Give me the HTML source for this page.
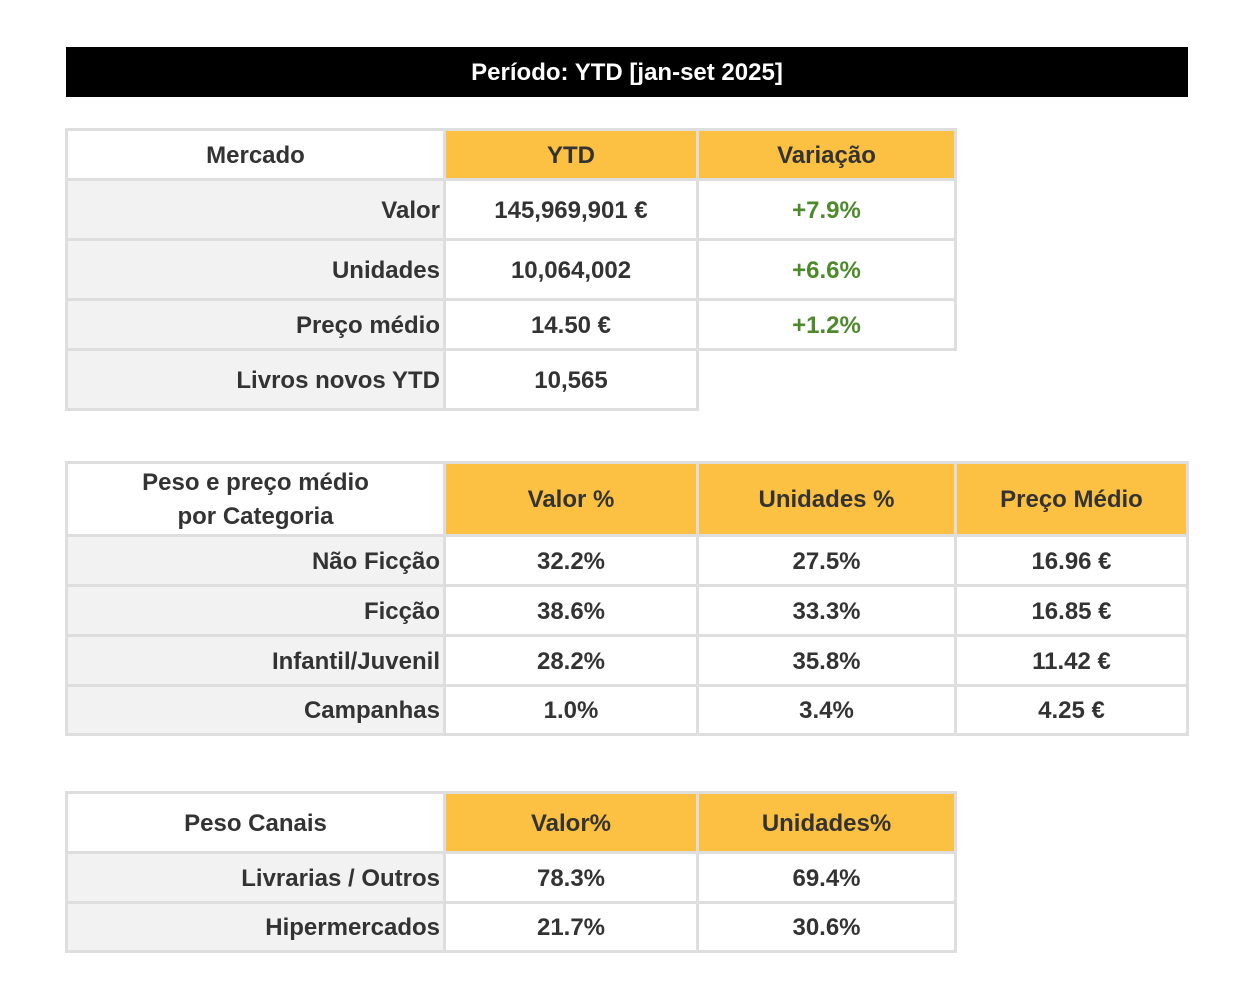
<!DOCTYPE html>
<html><head><meta charset="utf-8"><style>
body{margin:0;width:1252px;height:1000px;background:#fff;position:relative;overflow:hidden}
.c{position:absolute;box-sizing:border-box;border:3px solid #dedede;display:flex;align-items:center;justify-content:center;font:bold 24px "Liberation Sans",sans-serif;color:#333;background:#fff;text-align:center;line-height:34px;padding-top:2px}
.l{background:#f2f2f2;justify-content:flex-end;padding-right:3px}
.h{background:#fcc143}
.w{background:#fff;justify-content:center}
.g{color:#4d8a2c}
.t{position:absolute;left:66px;top:47px;width:1122px;height:50px;background:#000;color:#fff;font:bold 24px "Liberation Sans",sans-serif;display:flex;align-items:center;justify-content:center;padding-top:1px;box-sizing:border-box}
</style></head><body>
<div class="t">Período: YTD [jan-set 2025]</div>

<div class="c w" style="left:65px;top:128px;width:381px;height:53px">Mercado</div>
<div class="c h" style="left:443px;top:128px;width:256px;height:53px">YTD</div>
<div class="c h" style="left:696px;top:128px;width:261px;height:53px">Variação</div>
<div class="c l" style="left:65px;top:178px;width:381px;height:63px">Valor</div>
<div class="c" style="left:443px;top:178px;width:256px;height:63px">145,969,901 €</div>
<div class="c g" style="left:696px;top:178px;width:261px;height:63px">+7.9%</div>
<div class="c l" style="left:65px;top:238px;width:381px;height:63px">Unidades</div>
<div class="c" style="left:443px;top:238px;width:256px;height:63px">10,064,002</div>
<div class="c g" style="left:696px;top:238px;width:261px;height:63px">+6.6%</div>
<div class="c l" style="left:65px;top:298px;width:381px;height:53px">Preço médio</div>
<div class="c" style="left:443px;top:298px;width:256px;height:53px">14.50 €</div>
<div class="c g" style="left:696px;top:298px;width:261px;height:53px">+1.2%</div>
<div class="c l" style="left:65px;top:348px;width:381px;height:63px">Livros novos YTD</div>
<div class="c" style="left:443px;top:348px;width:256px;height:63px">10,565</div>

<div class="c w" style="left:65px;top:461px;width:381px;height:76px">Peso e preço médio<br>por Categoria</div>
<div class="c h" style="left:443px;top:461px;width:256px;height:76px">Valor %</div>
<div class="c h" style="left:696px;top:461px;width:261px;height:76px">Unidades %</div>
<div class="c h" style="left:954px;top:461px;width:235px;height:76px">Preço Médio</div>
<div class="c l" style="left:65px;top:534px;width:381px;height:53px">Não Ficção</div>
<div class="c" style="left:443px;top:534px;width:256px;height:53px">32.2%</div>
<div class="c" style="left:696px;top:534px;width:261px;height:53px">27.5%</div>
<div class="c" style="left:954px;top:534px;width:235px;height:53px">16.96 €</div>
<div class="c l" style="left:65px;top:584px;width:381px;height:53px">Ficção</div>
<div class="c" style="left:443px;top:584px;width:256px;height:53px">38.6%</div>
<div class="c" style="left:696px;top:584px;width:261px;height:53px">33.3%</div>
<div class="c" style="left:954px;top:584px;width:235px;height:53px">16.85 €</div>
<div class="c l" style="left:65px;top:634px;width:381px;height:53px">Infantil/Juvenil</div>
<div class="c" style="left:443px;top:634px;width:256px;height:53px">28.2%</div>
<div class="c" style="left:696px;top:634px;width:261px;height:53px">35.8%</div>
<div class="c" style="left:954px;top:634px;width:235px;height:53px">11.42 €</div>
<div class="c l" style="left:65px;top:684px;width:381px;height:52px">Campanhas</div>
<div class="c" style="left:443px;top:684px;width:256px;height:52px">1.0%</div>
<div class="c" style="left:696px;top:684px;width:261px;height:52px">3.4%</div>
<div class="c" style="left:954px;top:684px;width:235px;height:52px">4.25 €</div>

<div class="c w" style="left:65px;top:791px;width:381px;height:63px">Peso Canais</div>
<div class="c h" style="left:443px;top:791px;width:256px;height:63px">Valor%</div>
<div class="c h" style="left:696px;top:791px;width:261px;height:63px">Unidades%</div>
<div class="c l" style="left:65px;top:851px;width:381px;height:53px">Livrarias / Outros</div>
<div class="c" style="left:443px;top:851px;width:256px;height:53px">78.3%</div>
<div class="c" style="left:696px;top:851px;width:261px;height:53px">69.4%</div>
<div class="c l" style="left:65px;top:901px;width:381px;height:52px">Hipermercados</div>
<div class="c" style="left:443px;top:901px;width:256px;height:52px">21.7%</div>
<div class="c" style="left:696px;top:901px;width:261px;height:52px">30.6%</div>
</body></html>
